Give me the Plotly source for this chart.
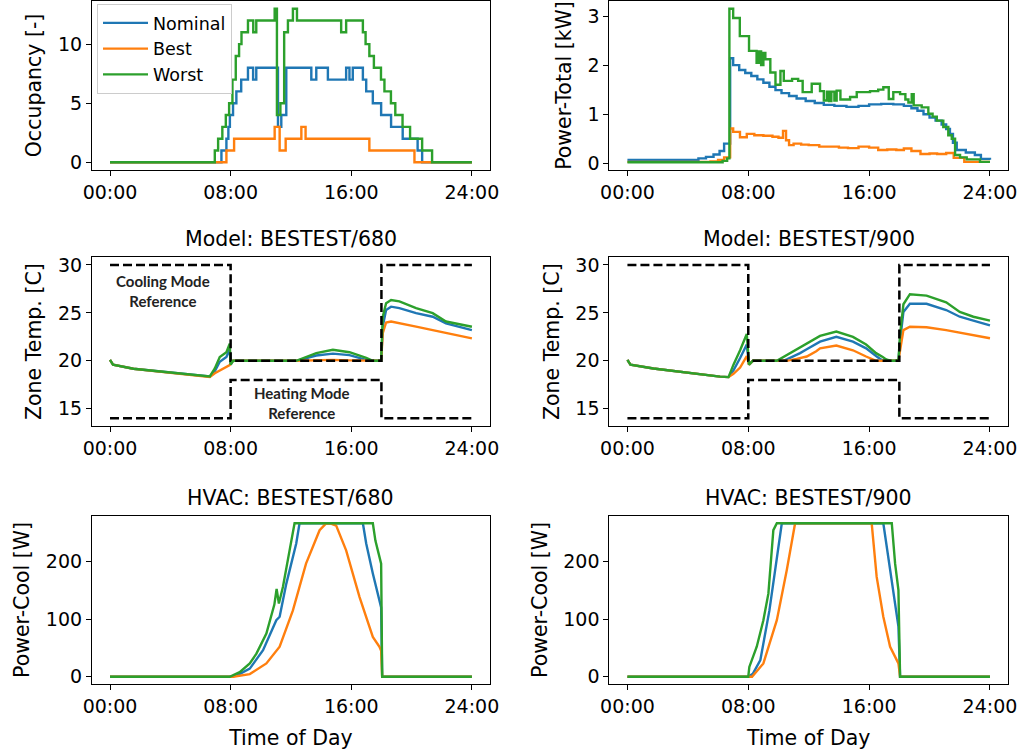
import plotly.graph_objects as go

# --- occupancy (step data, hours of day) ---
occ_nom_t = [0, 7.39, 7.72, 7.85, 7.95, 8.16, 8.38, 8.7, 9.15, 9.49, 9.7, 11.14, 11.36, 11.69, 13.35, 13.68,
             14.45, 15.66, 15.88, 16.1, 16.77, 16.99, 17.43, 17.98, 18.64, 19.41, 20.4, 20.7, 24]
occ_nom_v = [0, 1, 2, 3, 4, 5, 6, 7, 8, 7, 8, 3, 4, 8, 7, 8, 7, 8, 7, 8, 7, 6, 5, 4, 3, 2, 1, 0, 0]
occ_best_t = [0, 7.72, 8.23, 10.92, 11.25, 11.65, 12.69, 12.97, 17.2, 20.19, 24]
occ_best_v = [0, 1, 2, 3, 1, 2, 3, 2, 1, 0, 0]
occ_worst_t = [0, 6.95, 7.17, 7.45, 7.68, 7.9, 8.12, 8.34, 8.56, 8.72, 9.15, 9.5, 9.7, 10.92, 11.07, 11.3, 11.55,
               11.8, 12.13, 12.4, 15.33, 15.66, 16.77, 16.95, 17.2, 17.5, 17.97, 18.2, 18.63, 18.92, 19.4, 19.9,
               20.7, 21.36, 24]
occ_worst_v = [0, 1, 2, 3, 4, 5, 7, 9, 10, 11, 12, 11, 12, 13, 4, 5, 11, 12, 13, 12, 11, 12, 11, 10, 9, 8, 7, 6,
               5, 4, 3, 2, 1, 0, 0]

# --- total power [kW] ---
pwr_nom_t = [0, 4.7, 5.2, 5.7, 6.1, 6.4, 6.8, 7.0, 7.4, 7.8, 8.2, 8.6, 9.0, 9.4, 9.8, 10.2, 10.7, 11.2, 11.8, 12.4,
             13.0, 13.7, 14.5, 15.3, 16.0, 16.8, 17.6, 18.3, 18.8, 19.2, 19.6, 20.0, 20.4, 20.8, 21.1, 21.35, 21.55,
             21.8, 22.4, 23.0, 23.4, 24]
pwr_nom_v = [0.07, 0.1, 0.13, 0.18, 0.25, 0.4, 2.14, 2.0, 1.9, 1.84, 1.78, 1.71, 1.64, 1.56, 1.49, 1.43, 1.37, 1.32,
             1.27, 1.23, 1.19, 1.17, 1.15, 1.17, 1.2, 1.21, 1.2, 1.17, 1.12, 1.07, 1.0, 0.93, 0.87, 0.79, 0.7, 0.6,
             0.42, 0.27, 0.22, 0.17, 0.09, 0.07]
pwr_best_t = [0, 5.5, 6.0, 6.4, 6.8, 7.0, 7.45, 7.9, 8.4, 9.0, 9.6, 10.0, 10.3, 10.5, 10.7, 11.0, 11.5, 12.0, 12.7,
              13.3, 14.0, 14.6, 15.3, 16.0, 16.6, 17.2, 17.8, 18.3, 18.8, 19.4, 20.0, 20.5, 21.1, 21.6, 22.3, 24]
pwr_best_v = [0.03, 0.04, 0.07, 0.12, 0.71, 0.64, 0.53, 0.6, 0.57, 0.56, 0.54, 0.52, 0.66, 0.47, 0.37, 0.4, 0.38,
              0.37, 0.34, 0.34, 0.32, 0.31, 0.34, 0.32, 0.27, 0.28, 0.27, 0.3, 0.25, 0.19, 0.2, 0.19, 0.21, 0.11,
              0.03, 0.03]
pwr_worst_t = [0, 6.3, 6.6, 6.75, 7.0, 7.44, 8.05, 8.55, 8.7, 8.85, 9.0, 9.13, 9.46, 9.8, 10.13, 10.35, 10.9, 11.3,
               11.6, 12.2, 12.75, 13.0, 13.2, 13.35, 13.5, 13.7, 13.85, 14.1, 14.74, 15.18, 16.06, 16.6, 16.94,
               17.3, 17.6, 18.05, 18.4, 18.6, 18.82, 18.95, 19.48, 19.92, 20.2, 20.48, 20.91, 21.24, 21.47, 21.69,
               22.02, 22.46, 23.34, 24]
pwr_worst_v = [0.02, 0.05, 0.1, 3.15, 2.96, 2.59, 2.29, 2.05, 2.28, 2.0, 2.25, 2.12, 1.85, 1.6, 1.88, 1.68, 1.72,
               1.68, 1.45, 1.62, 1.47, 1.28, 1.46, 1.27, 1.46, 1.28, 1.48, 1.3, 1.35, 1.45, 1.47, 1.5, 1.55, 1.31,
               1.45, 1.41, 1.3, 1.24, 1.41, 1.18, 1.14, 1.01, 0.95, 0.87, 0.74, 0.57, 0.5, 0.17, 0.12, 0.08, 0.03,
               0.03]

# --- zone temperature [C] ---
tz680 = [0, 0.2, 1.55, 3.75, 6.62, 6.95, 7.28, 7.72, 7.94, 8.0, 8.16, 12.35, 13.68, 14.78, 15.88, 16.99, 17.43,
         17.98, 18.09, 18.31, 18.64, 19.19, 20.3, 21.4, 22.28, 24]
tzone680_nom = [20.1, 19.6, 19.17, 18.8, 18.37, 18.9, 19.9, 20.4, 21.2, 19.6, 20.0, 20.0, 20.55, 20.75, 20.6, 20.1,
                20.0, 20.0, 23.6, 25.3, 25.65, 25.5, 24.97, 24.6, 23.9, 23.2]
tzone680_best = [20.1, 19.6, 19.17, 18.8, 18.3, 18.7, 19.0, 19.4, 19.55, 19.7, 20.0, 20.0, 20.05, 20.1, 20.05, 20.0,
                 20.0, 20.0, 22.9, 24.0, 24.1, 23.9, 23.57, 23.2, 22.9, 22.35]
tzone680_worst = [20.1, 19.6, 19.17, 18.8, 18.37, 19.2, 20.4, 20.9, 21.8, 19.6, 20.0, 20.0, 20.8, 21.15, 20.9, 20.3,
                  20.0, 20.0, 24.6, 26.0, 26.35, 26.2, 25.5, 24.97, 24.1, 23.55]

tz900 = [0, 0.2, 1.72, 3.93, 6.13, 6.69, 7.02, 7.46, 7.9, 8.05, 8.3, 9.89, 10.33, 10.55, 11.2, 11.43, 11.87, 12.5,
         12.75, 13.83, 14.93, 15.8, 16.03, 16.46, 16.9, 17.13, 17.46, 17.94, 18.05, 18.27, 18.7, 19.8, 21.1, 22.0,
         22.9, 24]
tzone900_nom = [20.1, 19.6, 19.2, 18.75, 18.35, 18.3, 19.0, 20.3, 21.7, 19.6, 20, 20, 20, 20.15, 20.6, 20.8, 21.2,
                21.8, 22.0, 22.5, 22.0, 21.3, 21.0, 20.5, 20.0, 20, 20, 20, 22.1, 25.1, 25.95, 25.95, 25.3, 24.6,
                24.2, 23.7]
tzone900_best = [20.1, 19.6, 19.2, 18.75, 18.35, 18.3, 18.65, 19.3, 20.5, 19.6, 20, 20, 20, 20, 20.2, 20.3, 20.45,
                 21.0, 21.3, 21.6, 21.1, 20.45, 20.3, 20.0, 20, 20, 20, 20, 21.1, 23.2, 23.55, 23.5, 23.2, 22.95,
                 22.7, 22.35]
tzone900_worst = [20.1, 19.6, 19.2, 18.75, 18.35, 18.3, 19.6, 21.1, 22.8, 19.6, 20, 20, 20.4, 20.6, 21.15, 21.4,
                  21.8, 22.36, 22.6, 23.05, 22.5, 21.7, 21.35, 20.8, 20.4, 20.15, 20, 20, 22.8, 25.9, 26.95, 26.8,
                  26.1, 25.1, 24.6, 24.2]

# thermostat references
sp_t = [0, 8, 18, 24]
cool_sp = [30, 20, 30, 30]
heat_sp = [14, 18, 14, 14]

# --- HVAC cooling power [W] ---
cool680_nom_t = [0, 7.94, 8.4, 9.27, 10.15, 11.03, 11.25, 11.69, 12.35, 12.57, 16.77, 16.99, 17.43, 17.87, 17.98,
                 18.05, 24]
cool680_nom_v = [0, 0, 2, 14, 46, 98, 104, 161, 231, 266, 266, 231, 179, 127, 120, 0, 0]
cool680_best_t = [0, 8.16, 9.27, 10.37, 11.25, 12.13, 13.0, 13.9, 14.3, 14.6, 15.0, 15.66, 16.55, 17.43, 17.87,
                  17.98, 18.05, 24]
cool680_best_v = [0, 0, 4.6, 23, 52, 115, 196, 254, 265, 266, 262, 219, 138, 69, 52, 45, 0, 0]
cool680_worst_t = [0, 7.94, 8.6, 9.27, 9.71, 10.37, 10.9, 11.05, 11.2, 11.47, 11.91, 12.24, 17.43, 17.6, 17.82,
                   17.98, 18.05, 24]
cool680_worst_v = [0, 0, 8, 23, 40, 75, 125, 152, 127, 156, 219, 266, 266, 236, 213, 196, 0, 0]

cool900_nom_t = [0, 8.0, 8.3, 8.8, 9.4, 9.9, 10.22, 16.94, 17.17, 17.6, 17.94, 18.05, 24]
cool900_nom_v = [0, 0, 5, 29, 115, 202, 266, 266, 225, 144, 87, 0, 0]
cool900_best_t = [0, 8.25, 9.0, 9.89, 10.55, 11.1, 16.17, 16.5, 16.94, 17.39, 17.94, 18.05, 24]
cool900_best_v = [0, 0, 23, 98, 185, 266, 266, 173, 104, 52, 23, 0, 0]
cool900_worst_t = [0, 8.0, 8.07, 8.56, 9.0, 9.33, 9.66, 9.89, 17.5, 17.72, 17.94, 18.05, 24]
cool900_worst_v = [0, 0, 17, 52, 98, 144, 254, 266, 266, 196, 150, 0, 0]

tick_hours = [0, 8, 16, 24]
tick_labels = ['00:00', '08:00', '16:00', '24:00']
names = ['Nominal', 'Best', 'Worst']
colors = ['#1f77b4', '#ff7f0e', '#2ca02c']

FONT = 'DejaVu Sans'
W, H = 1024, 755
ML, MR, MT, MB = 50, 4, 0, 50
PW, PH = W - ML - MR, H - MT - MB


# pixel positions measured on the 1024x755 page -> paper fractions
def px_x(a, b):
    return [(a - ML) / PW, (b - ML) / PW]


def px_y(top, bottom):
    return [(PH - bottom) / PH, (PH - top) / PH]


def span(*series):
    lo = min(min(s) for s in series)
    hi = max(max(s) for s in series)
    p = 0.05 * (hi - lo)
    return [lo - p, hi + p]


fig = go.Figure()


def add3(ax, ts, vs, shape, legend=False):
    for t, v, n, c in zip(ts, vs, names, colors):
        fig.add_trace(go.Scatter(x=t, y=v, mode='lines', name=n, showlegend=legend,
                                 line=dict(color=c, width=2.4, shape=shape),
                                 xaxis='x' + ax, yaxis='y' + ax))


add3('', [occ_nom_t, occ_best_t, occ_worst_t], [occ_nom_v, occ_best_v, occ_worst_v], 'hv', legend=True)
add3('2', [pwr_nom_t, pwr_best_t, pwr_worst_t], [pwr_nom_v, pwr_best_v, pwr_worst_v], 'hv')
add3('3', [tz680] * 3, [tzone680_nom, tzone680_best, tzone680_worst], 'linear')
add3('4', [tz900] * 3, [tzone900_nom, tzone900_best, tzone900_worst], 'linear')
add3('5', [cool680_nom_t, cool680_best_t, cool680_worst_t], [cool680_nom_v, cool680_best_v, cool680_worst_v], 'linear')
add3('6', [cool900_nom_t, cool900_best_t, cool900_worst_t], [cool900_nom_v, cool900_best_v, cool900_worst_v], 'linear')

for ax in ['3', '4']:
    for sp in [cool_sp, heat_sp]:
        fig.add_trace(go.Scatter(x=sp_t, y=sp, mode='lines', showlegend=False,
                                 line=dict(color='black', width=2.5, dash='9px,4px', shape='hv'),
                                 xaxis='x' + ax, yaxis='y' + ax))

xr = span(tick_hours)
col_dom = [px_x(91.9, 490), px_x(609.3, 1008.1)]
row_dom = [px_y(1, 170), px_y(257.3, 426), px_y(515.6, 684.4)]

y_ranges = [
    span(occ_nom_v, occ_best_v, occ_worst_v),
    span(pwr_nom_v, pwr_best_v, pwr_worst_v),
    span(tzone680_nom, tzone680_best, tzone680_worst, cool_sp, heat_sp),
    span(tzone900_nom, tzone900_best, tzone900_worst, cool_sp, heat_sp),
    span(cool680_nom_v, cool680_best_v, cool680_worst_v),
    span(cool900_nom_v, cool900_best_v, cool900_worst_v),
]
y_titles = ['Occupancy [-]', 'Power-Total [kW]', 'Zone Temp. [C]', 'Zone Temp. [C]', 'Power-Cool [W]',
            'Power-Cool [W]']
y_dticks = [5, 1, 5, 5, 100, 100]

axis_style = dict(showline=True, mirror=True, linecolor='black', linewidth=1, ticks='outside', ticklen=5,
                  tickwidth=1, tickcolor='black', showgrid=False, zeroline=False, automargin=False,
                  tickfont=dict(family=FONT, size=19, color='black'))
label_font = dict(family=FONT, size=20.5, color='black')

layout = {}
for i in range(6):
    r, c = divmod(i, 2)
    s = '' if i == 0 else str(i + 1)
    layout['xaxis' + s] = dict(axis_style, domain=col_dom[c], anchor='y' + s, range=xr,
                               tickvals=tick_hours, ticktext=tick_labels,
                               title=dict(text='Time of Day' if r == 2 else '', font=label_font, standoff=14))
    layout['yaxis' + s] = dict(axis_style, domain=row_dom[r], anchor='x' + s, range=y_ranges[i],
                               dtick=y_dticks[i], tick0=0,
                               title=dict(text=y_titles[i], font=label_font, standoff=10))

fig.update_layout(**layout)

titles = [('Model: BESTEST/680', 0, 1), ('Model: BESTEST/900', 1, 1),
          ('HVAC: BESTEST/680', 0, 2), ('HVAC: BESTEST/900', 1, 2)]
for txt, c, r in titles:
    fig.add_annotation(text=txt, xref='paper', yref='paper', x=sum(col_dom[c]) / 2, y=row_dom[r][1],
                       xanchor='center', yanchor='bottom', yshift=4, showarrow=False, font=label_font)

fig.add_annotation(text='Cooling Mode<br>Reference', x=3.53, y=27.3, xref='x3', yref='y3', showarrow=False,
                   font=dict(family='Lato', size=15, color='#222222', weight='bold'))
fig.add_annotation(text='Heating Mode<br>Reference', x=12.75, y=15.56, xref='x3', yref='y3', showarrow=False,
                   font=dict(family='Lato', size=15, color='#222222', weight='bold'))

fig.update_layout(
    width=W, height=H,
    margin=dict(l=ML, r=MR, t=MT, b=MB),
    paper_bgcolor='white', plot_bgcolor='white',
    font=dict(family=FONT, color='black'),
    legend=dict(x=(97 - ML) / PW, y=(PH - 4) / PH, xanchor='left', yanchor='top', itemwidth=45,
                bgcolor='rgba(255,255,255,0.8)', bordercolor='#cccccc', borderwidth=1,
                font=dict(family=FONT, size=17.5, color='black')),
)

# drop the default 8px page margin so the figure sits at the window origin
fig.write_html('out.html', config={'displayModeBar': False},
               post_script="document.body.style.margin = '0px';")
